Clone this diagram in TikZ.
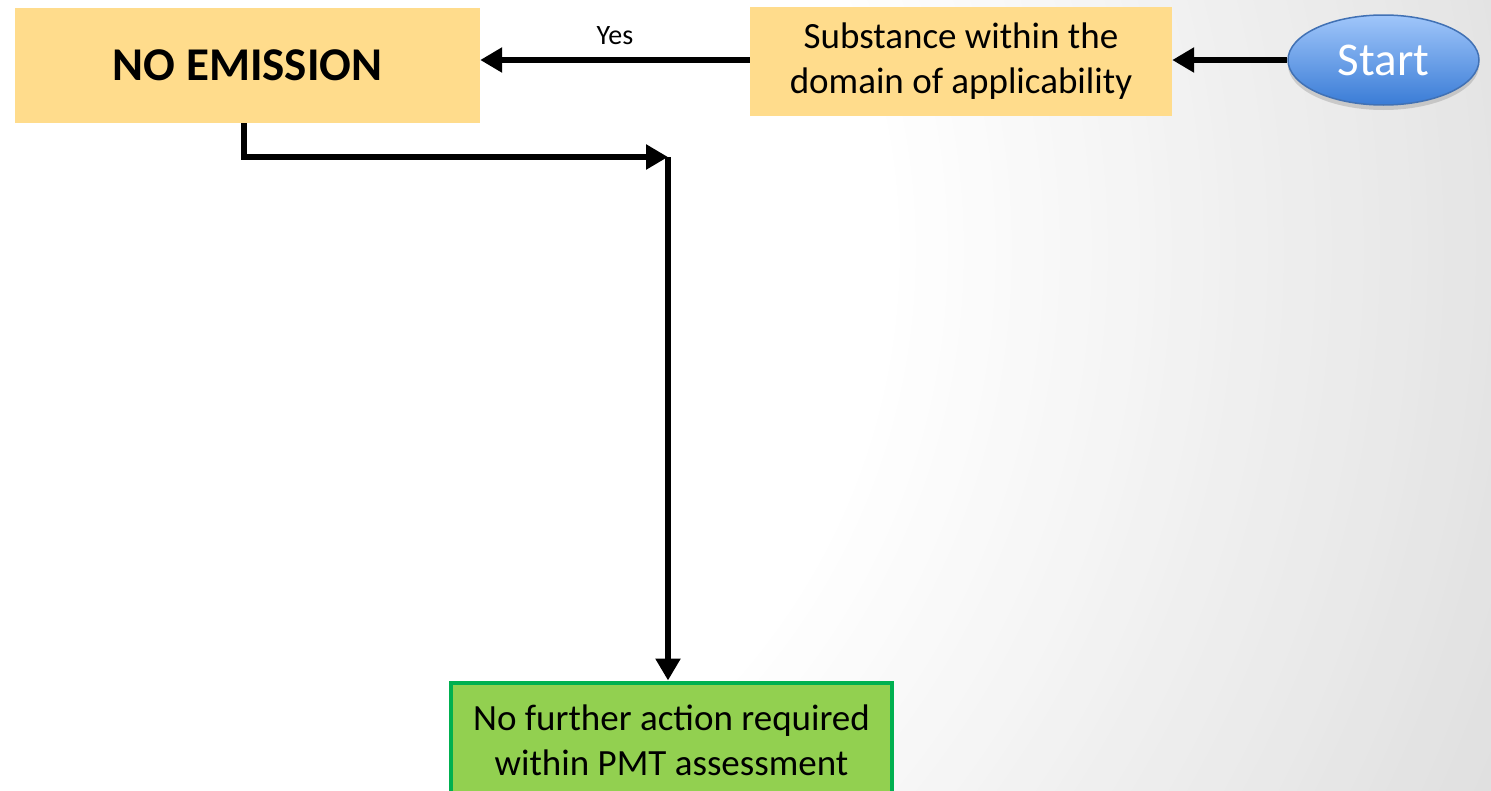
\documentclass[tikz,border=0pt]{standalone}
\usepackage{fontspec}
\setmainfont{Carlito}
\usetikzlibrary{arrows.meta,shadows,shapes.geometric}
\definecolor{boxorange}{RGB}{255,220,140}
\definecolor{boxgreen}{RGB}{146,208,80}
\definecolor{edgegreen}{RGB}{0,176,80}
\definecolor{startlight}{RGB}{160,198,250}
\definecolor{startdark}{RGB}{58,124,214}
\definecolor{startedge}{RGB}{65,113,180}
\definecolor{bggray}{RGB}{222,222,222}
\begin{document}
\begin{tikzpicture}[x=1pt,y=-1pt,
  orangebox/.style={fill=boxorange, draw=none, inner sep=0pt, align=center,
    font=\fontsize{37}{45}\selectfont},
  greenbox/.style={fill=boxgreen, draw=edgegreen, line width=4pt, inner sep=0pt, align=center,
    font=\fontsize{37}{45}\selectfont},
  startnode/.style={ellipse, draw=startedge, line width=1.5pt, top color=startlight, bottom color=startdark,
    inner sep=0pt, text=white, font=\fontsize{47}{56}\selectfont,
    drop shadow={opacity=0.25, shadow xshift=0pt, shadow yshift=-5pt, fill=black!60}},
  conn/.style={line width=6pt, line join=miter, -{Triangle[length=22pt,width=24pt]}},
  lbl/.style={font=\fontsize{28}{34}\selectfont, inner sep=0pt}
]
\clip (0,0) rectangle (1491,790);
\fill[white] (0,0) rectangle (1491,790);
\foreach \i in {0,...,50}{
  \pgfmathsetmacro{\rad}{1450-\i*16}
  \pgfmathsetmacro{\pct}{max(0,min(100,(\rad-650)/750*100))}
  \fill[bggray!\pct!white] (250,250) circle (\rad);
}
\node[orangebox, minimum width=465pt, minimum height=115pt, font=\fontsize{47}{56}\selectfont\bfseries] (noem) at (247.5,65.5) {NO EMISSION};
\node[orangebox, minimum width=422pt, minimum height=109pt] (subs) at (961,61) {Substance within the\\domain of applicability};
\node[startnode, minimum width=191pt, minimum height=90pt] (start) at (1383.5,60) {Start};
\node[greenbox, minimum width=441pt, minimum height=115pt] (green) at (671.5,740) {No further action required\\within PMT assessment};
\coordinate (j) at (668,157);
\draw[conn] (start.west) -- (start.west -| subs.east);
\draw[conn] (subs.west |- start.west) -- node[lbl, midway, yshift=24pt] (yes) {Yes} (start.west -| noem.east);
\draw[conn] ([xshift=-3.5pt]noem.south) |- (j);
\draw[conn] (j) -- (j |- green.north);
\end{tikzpicture}
\end{document}
